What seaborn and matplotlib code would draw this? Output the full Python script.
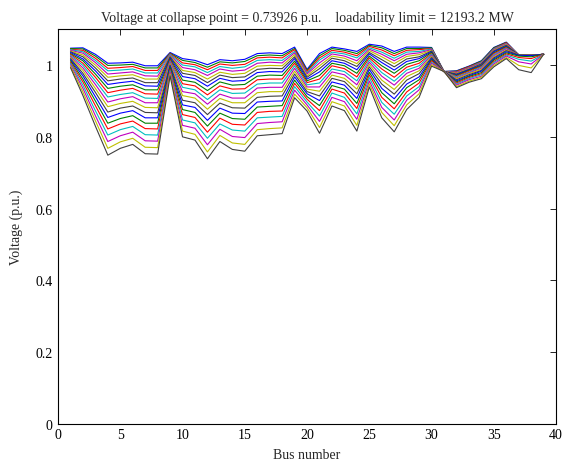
import numpy as np
import pandas as pd
import seaborn as sns
import matplotlib
matplotlib.use('Agg')
import matplotlib.pyplot as plt
from matplotlib.ticker import FormatStrFormatter

# bus numbers of the IEEE 39 bus system
bus = list(range(1, 40))

# voltage profile (p.u.) at each load step, base case first, collapse point last
v01 = [1.047, 1.048, 1.030, 1.005, 1.006, 1.008, 0.998, 0.998, 1.035, 1.018, 1.013, 1.001, 1.015, 1.012, 1.016, 1.032, 1.034, 1.032, 1.050, 0.988, 1.032, 1.050, 1.045, 1.038, 1.058, 1.053, 1.038, 1.050, 1.050, 1.049, 0.982, 0.984, 0.997, 1.012, 1.049, 1.064, 1.028, 1.027, 1.030]
v02 = [1.046, 1.045, 1.025, 0.999, 1.000, 1.002, 0.992, 0.992, 1.033, 1.013, 1.007, 0.994, 1.009, 1.006, 1.010, 1.026, 1.028, 1.026, 1.046, 0.985, 1.026, 1.046, 1.041, 1.032, 1.055, 1.048, 1.032, 1.046, 1.046, 1.048, 0.982, 0.983, 0.996, 1.011, 1.048, 1.063, 1.028, 1.027, 1.030]
v03 = [1.044, 1.041, 1.019, 0.991, 0.993, 0.996, 0.985, 0.985, 1.032, 1.006, 1.001, 0.987, 1.003, 0.999, 1.002, 1.020, 1.022, 1.020, 1.043, 0.982, 1.020, 1.041, 1.036, 1.026, 1.052, 1.042, 1.026, 1.041, 1.043, 1.046, 0.982, 0.982, 0.995, 1.009, 1.046, 1.062, 1.028, 1.027, 1.030]
v04 = [1.043, 1.037, 1.013, 0.984, 0.986, 0.989, 0.978, 0.978, 1.030, 1.000, 0.995, 0.979, 0.996, 0.991, 0.995, 1.013, 1.015, 1.013, 1.038, 0.978, 1.014, 1.036, 1.031, 1.020, 1.048, 1.036, 1.019, 1.036, 1.038, 1.045, 0.982, 0.980, 0.993, 1.008, 1.045, 1.060, 1.028, 1.027, 1.030]
v05 = [1.041, 1.033, 1.007, 0.975, 0.978, 0.981, 0.970, 0.969, 1.027, 0.993, 0.987, 0.971, 0.989, 0.983, 0.986, 1.005, 1.008, 1.006, 1.034, 0.975, 1.006, 1.031, 1.025, 1.012, 1.044, 1.030, 1.012, 1.030, 1.034, 1.043, 0.982, 0.979, 0.992, 1.006, 1.043, 1.059, 1.028, 1.027, 1.030]
v06 = [1.039, 1.028, 1.000, 0.966, 0.970, 0.973, 0.961, 0.961, 1.025, 0.985, 0.979, 0.961, 0.980, 0.974, 0.977, 0.997, 0.999, 0.998, 1.029, 0.970, 0.998, 1.025, 1.019, 1.004, 1.040, 1.023, 1.004, 1.024, 1.029, 1.041, 0.982, 0.977, 0.990, 1.004, 1.041, 1.057, 1.028, 1.027, 1.030]
v07 = [1.037, 1.023, 0.992, 0.956, 0.961, 0.964, 0.951, 0.951, 1.023, 0.977, 0.971, 0.951, 0.972, 0.965, 0.967, 0.988, 0.991, 0.990, 1.023, 0.966, 0.990, 1.019, 1.012, 0.996, 1.035, 1.015, 0.995, 1.017, 1.023, 1.039, 0.982, 0.975, 0.988, 1.003, 1.039, 1.055, 1.028, 1.027, 1.030]
v08 = [1.035, 1.017, 0.984, 0.946, 0.951, 0.955, 0.942, 0.941, 1.020, 0.968, 0.962, 0.941, 0.963, 0.955, 0.957, 0.979, 0.982, 0.981, 1.018, 0.961, 0.981, 1.012, 1.005, 0.987, 1.031, 1.007, 0.986, 1.010, 1.018, 1.037, 0.982, 0.973, 0.987, 1.000, 1.037, 1.053, 1.028, 1.027, 1.030]
v09 = [1.032, 1.012, 0.975, 0.935, 0.941, 0.945, 0.931, 0.931, 1.017, 0.958, 0.952, 0.929, 0.953, 0.944, 0.946, 0.969, 0.972, 0.971, 1.011, 0.956, 0.971, 1.005, 0.998, 0.977, 1.025, 0.998, 0.977, 1.002, 1.012, 1.035, 0.982, 0.971, 0.985, 0.998, 1.034, 1.051, 1.028, 1.027, 1.030]
v10 = [1.030, 1.005, 0.966, 0.923, 0.930, 0.935, 0.920, 0.919, 1.014, 0.948, 0.942, 0.917, 0.942, 0.933, 0.934, 0.959, 0.961, 0.961, 1.005, 0.951, 0.961, 0.998, 0.990, 0.967, 1.020, 0.989, 0.966, 0.994, 1.005, 1.032, 0.982, 0.969, 0.983, 0.996, 1.032, 1.049, 1.028, 1.027, 1.030]
v11 = [1.027, 0.999, 0.956, 0.911, 0.918, 0.923, 0.908, 0.907, 1.011, 0.938, 0.931, 0.904, 0.931, 0.921, 0.922, 0.947, 0.950, 0.950, 0.998, 0.945, 0.950, 0.989, 0.982, 0.956, 1.014, 0.979, 0.955, 0.986, 0.998, 1.030, 0.982, 0.967, 0.980, 0.994, 1.029, 1.047, 1.028, 1.027, 1.030]
v12 = [1.024, 0.992, 0.946, 0.897, 0.906, 0.912, 0.895, 0.895, 1.008, 0.926, 0.920, 0.891, 0.919, 0.908, 0.908, 0.936, 0.938, 0.938, 0.991, 0.939, 0.939, 0.981, 0.973, 0.945, 1.008, 0.969, 0.944, 0.977, 0.991, 1.027, 0.982, 0.964, 0.978, 0.991, 1.026, 1.045, 1.028, 1.027, 1.030]
v13 = [1.021, 0.985, 0.935, 0.884, 0.893, 0.899, 0.882, 0.881, 1.004, 0.915, 0.908, 0.877, 0.907, 0.895, 0.895, 0.923, 0.926, 0.926, 0.983, 0.933, 0.927, 0.972, 0.963, 0.933, 1.002, 0.958, 0.932, 0.968, 0.984, 1.024, 0.982, 0.962, 0.976, 0.988, 1.023, 1.042, 1.028, 1.027, 1.030]
v14 = [1.018, 0.977, 0.924, 0.869, 0.880, 0.886, 0.868, 0.867, 1.000, 0.902, 0.895, 0.862, 0.894, 0.881, 0.880, 0.910, 0.913, 0.914, 0.975, 0.926, 0.914, 0.963, 0.954, 0.920, 0.995, 0.947, 0.919, 0.958, 0.976, 1.021, 0.982, 0.959, 0.973, 0.985, 1.020, 1.040, 1.028, 1.027, 1.030]
v15 = [1.015, 0.970, 0.912, 0.854, 0.866, 0.873, 0.853, 0.853, 0.997, 0.889, 0.882, 0.846, 0.880, 0.866, 0.865, 0.897, 0.899, 0.900, 0.967, 0.920, 0.901, 0.953, 0.944, 0.907, 0.988, 0.935, 0.906, 0.947, 0.967, 1.018, 0.982, 0.956, 0.970, 0.983, 1.017, 1.037, 1.027, 1.026, 1.030]
v16 = [1.012, 0.961, 0.900, 0.838, 0.851, 0.859, 0.838, 0.838, 0.993, 0.876, 0.868, 0.830, 0.866, 0.851, 0.849, 0.883, 0.885, 0.887, 0.958, 0.912, 0.887, 0.943, 0.933, 0.893, 0.980, 0.923, 0.892, 0.937, 0.959, 1.015, 0.982, 0.953, 0.968, 0.979, 1.014, 1.034, 1.025, 1.023, 1.030]
v17 = [1.008, 0.953, 0.887, 0.822, 0.836, 0.844, 0.823, 0.822, 0.988, 0.862, 0.854, 0.813, 0.852, 0.835, 0.833, 0.868, 0.871, 0.872, 0.949, 0.905, 0.873, 0.933, 0.922, 0.879, 0.973, 0.910, 0.878, 0.925, 0.950, 1.012, 0.982, 0.950, 0.965, 0.976, 1.010, 1.031, 1.021, 1.018, 1.030]
v18 = [1.005, 0.944, 0.873, 0.805, 0.820, 0.829, 0.806, 0.805, 0.984, 0.847, 0.839, 0.796, 0.836, 0.819, 0.816, 0.853, 0.855, 0.857, 0.940, 0.897, 0.858, 0.922, 0.910, 0.864, 0.965, 0.896, 0.863, 0.914, 0.940, 1.008, 0.982, 0.947, 0.962, 0.973, 1.007, 1.028, 1.016, 1.011, 1.030]
v19 = [1.001, 0.935, 0.859, 0.787, 0.803, 0.813, 0.789, 0.788, 0.980, 0.832, 0.824, 0.778, 0.821, 0.801, 0.798, 0.837, 0.840, 0.842, 0.930, 0.889, 0.843, 0.910, 0.898, 0.849, 0.956, 0.882, 0.847, 0.902, 0.931, 1.005, 0.982, 0.944, 0.959, 0.969, 1.003, 1.025, 1.009, 1.003, 1.030]
v20 = [0.997, 0.925, 0.845, 0.768, 0.786, 0.796, 0.771, 0.770, 0.975, 0.816, 0.807, 0.758, 0.804, 0.783, 0.779, 0.820, 0.823, 0.825, 0.919, 0.881, 0.826, 0.898, 0.886, 0.832, 0.948, 0.868, 0.831, 0.889, 0.920, 1.001, 0.982, 0.940, 0.955, 0.966, 0.999, 1.021, 0.999, 0.992, 1.030]
v21 = [0.993, 0.915, 0.830, 0.749, 0.768, 0.779, 0.753, 0.752, 0.970, 0.800, 0.791, 0.739, 0.787, 0.765, 0.760, 0.803, 0.806, 0.809, 0.909, 0.872, 0.810, 0.886, 0.873, 0.816, 0.939, 0.853, 0.814, 0.876, 0.910, 0.997, 0.982, 0.937, 0.952, 0.962, 0.995, 1.018, 0.987, 0.979, 1.030]

profiles = [v01, v02, v03, v04, v05, v06, v07, v08, v09, v10, v11, v12, v13, v14,
            v15, v16, v17, v18, v19, v20, v21]

# long format table for seaborn
df = pd.DataFrame({
    'bus': bus * len(profiles),
    'voltage': [v for p in profiles for v in p],
    'step': [i for i, p in enumerate(profiles) for _ in p],
})

# old matlab colour order  b g r c m y k
matlab = [(0, 0, 1), (0, 0.5, 0), (1, 0, 0), (0, 0.75, 0.75),
          (0.75, 0, 0.75), (0.75, 0.75, 0), (0.25, 0.25, 0.25)]
colors = (matlab * 3)[:len(profiles)]

sns.set_style('white')
plt.rcParams['font.family'] = ['Liberation Serif', 'DejaVu Serif']
plt.rcParams['font.size'] = 10

fig = plt.figure(figsize=(5.66, 4.64), dpi=100)
ax = fig.add_axes([0.1025, 0.084, 0.880, 0.851])

sns.lineplot(data=df, x='bus', y='voltage', hue='step', palette=colors,
             legend=False, linewidth=0.8, ax=ax, estimator=None, sort=False)

ax.set_xlim(0, 40)
ax.set_ylim(0, 1.1)
ax.set_xticks(np.arange(0, 41, 5))
ax.set_yticks([0, 0.2, 0.4, 0.6, 0.8, 1.0])
ax.yaxis.set_major_formatter(FormatStrFormatter('%g'))
ax.tick_params(direction='in', top=True, right=True, length=4, width=0.6,
               labelsize=10, colors='black')
ax.tick_params(axis='y', pad=4)
ax.tick_params(axis='x', pad=3)
for s in ax.spines.values():
    s.set_visible(True)
    s.set_color('black')
    s.set_linewidth(0.8)

ax.set_xlabel('Bus number', fontsize=10, labelpad=5)
ax.set_ylabel('Voltage (p.u.)', fontsize=10, labelpad=9)
ax.set_title('Voltage at collapse point = 0.73926 p.u.    loadability limit = 12193.2 MW',
             fontsize=10, pad=6)

fig.savefig('out.png', dpi=100)
